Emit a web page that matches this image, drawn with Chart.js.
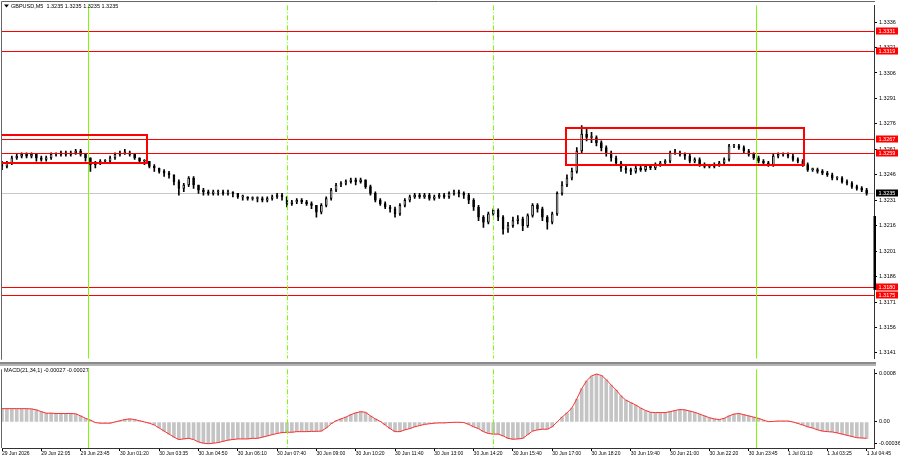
<!DOCTYPE html>
<html lang="en">
<head>
<meta charset="UTF-8">
<title>GBPUSD,M5</title>
<script src="https://cdn.jsdelivr.net/npm/chart.js"></script>
<style>
  body { margin: 0; background: #fff; }
  #wrap { position: relative; width: 900px; height: 460px; }
  canvas { position: absolute; left: 0; }
  #priceChart { top: 0; }
  #macdChart { top: 364px; }
</style>
</head>
<body>
<div id="wrap">
  <canvas id="priceChart" width="900" height="364"></canvas>
  <canvas id="macdChart" width="900" height="96"></canvas>
</div>
<script>
// candles, one per 10 minutes, in pips above 1.3000
const opens = [
  252,251,253,256,257,258,257,258,256,255, 256,258,258,259,258,259,260,258,256,252,
  253,254,254,256,258,259,259,258,256,254, 254,251,250,248,247,246,242,238,240,244,
  240,237,236,235,236,236,235,236,235,233, 233,232,232,232,231,232,233,234,233,229,
  230,231,230,229,228,224,228,232,237,240, 241,242,243,242,243,239,235,231,229,227,
  226,223,228,231,233,234,233,234,232,233, 234,233,235,236,235,234,231,227,221,218,
  223,225,221,214,216,219,220,216,222,228, 226,221,218,223,235,240,244,248,260,270,
  268,268,265,262,259,256,253,250,249,248, 250,249,251,250,252,253,254,259,259,258,
  257,254,255,252,251,251,252,253,255,263, 263,262,260,258,256,254,253,252,257,258,
  258,257,255,254,252,249,249,248,247,246, 244,244,242,241,239,238,237
];
const closes = [
  251,253,256,257,258,257,258,256,255,256, 258,258,259,258,259,260,258,256,252,253,
  254,254,256,258,259,259,258,256,254,254, 251,250,248,247,246,242,238,240,244,240,
  237,236,235,236,236,235,236,235,233,233, 232,232,232,231,232,233,234,233,229,230,
  231,230,229,228,224,228,232,237,240,241, 242,243,242,243,239,235,231,229,227,226,
  223,228,231,233,234,233,234,232,233,234, 233,235,236,235,234,231,227,221,218,223,
  225,221,214,216,219,220,216,222,228,226, 221,218,223,235,240,244,248,260,270,268,
  268,265,262,259,256,253,250,249,248,250, 249,251,250,252,253,254,259,259,258,257,
  254,255,252,251,251,252,253,255,263,263, 262,260,258,256,254,253,252,257,258,258,
  257,255,254,252,249,249,248,247,246,244, 244,242,241,239,238,237,235
];
const highs = [
  254,254,257,258,259,259,259,258,257,257, 259,259,260,260,260,261,261,258,256,254,
  255,255,257,259,260,261,260,258,256,255, 254,252,250,249,248,246,243,241,245,245,
  240,238,237,237,237,237,237,236,235,234, 233,233,233,233,233,234,235,235,233,231,
  232,232,231,230,228,229,233,238,241,242, 243,244,244,244,243,240,236,232,230,228,
  227,229,232,234,235,235,235,235,234,235, 235,236,237,237,236,235,232,228,222,224,
  226,226,222,218,221,222,221,223,229,229, 227,222,224,236,242,246,250,262,275,274,
  271,269,266,263,260,257,254,251,250,251, 251,252,252,253,254,255,260,261,260,259,
  258,256,256,253,252,253,254,256,264,264, 264,263,261,259,257,255,254,258,259,259,
  259,258,256,255,253,250,250,249,248,247, 245,245,243,242,240,239,238
];
const lows = [
  249,250,252,255,256,256,256,254,254,254, 255,257,257,257,257,258,257,254,248,250,
  252,253,253,255,257,258,257,255,253,252, 250,248,247,245,244,240,234,236,239,238,
  235,234,234,234,234,234,234,233,232,231, 231,231,230,230,230,231,232,231,227,228,
  229,229,228,226,221,223,227,231,236,239, 240,241,240,241,238,234,230,228,226,224,
  221,222,227,230,232,232,232,231,231,232, 232,232,234,233,232,229,225,219,215,217,
  222,219,211,212,215,217,213,215,221,224, 219,214,217,222,234,239,243,247,259,266,
  265,263,260,257,254,252,248,247,246,247, 248,248,249,249,251,252,253,258,257,255,
  253,253,251,250,250,250,251,252,254,262, 261,259,257,255,253,252,251,251,256,257,
  256,254,253,251,248,248,247,246,245,243, 243,241,240,238,237,236,234
];

// MACD(21,34,1) per candle, in 0.00001
const macdValues = [
  22,22,22,22,22,22,21.5,20,17,14.5, 14.5,14,14,14,14,13.5,10,6,3,-1,
  -2,-2,-2,0,2,4,5,4,2,0, -2,-5,-10,-15,-20,-25,-29,-28,-27,-29,
  -33,-35,-36,-35,-34,-32,-30,-29,-28,-28, -28,-27,-27,-25,-23,-21,-19,-17.5,-17,-17,
  -16,-16,-16,-15.5,-15.5,-15,-10,-3,2,5, 8,12,15,17,16,10,5,1,-5,-11,
  -16,-16,-13,-11,-8,-6,-4,-3,-2,-1.5, -1.5,-1,-0.5,-0.5,-1,-4,-8,-11,-16,-19,
  -20,-20,-23,-27,-28.5,-28,-27,-21,-15,-13, -12,-12,-8,0,8,15,23,38,55,68,
  76,79,77,70,61,53,43,36,32,28, 23,19,16,15.5,15.5,15.5,17,19,20.5,20,
  18,16,13,10,7,5,4,6,10,13, 14,12,10,8,6,3,0.5,1,1.5,1.5,
  1.5,0,-2.5,-5,-8,-10,-13,-15,-16,-16.5, -18,-20,-22,-24,-26,-26.5,-27
];

const timeTickBars = [0,8,16,24,32,40,48,56,64,72,80,88,96,104,112,120,128,136,144,152,160,168,176];
const timeLabels = [
  '29 Jun 2026','29 Jun 22:05','29 Jun 23:45','30 Jun 01:20','30 Jun 03:35','30 Jun 04:50',
  '30 Jun 06:10','30 Jun 07:40','30 Jun 09:00','30 Jun 10:20','30 Jun 11:40','30 Jun 13:00',
  '30 Jun 14:20','30 Jun 15:40','30 Jun 17:00','30 Jun 18:20','30 Jun 19:40','30 Jun 21:00',
  '30 Jun 22:20','30 Jun 23:45','1 Jul 01:10','1 Jul 03:25','1 Jul 04:45'
];

const priceTicks = [1.3141,1.3156,1.3171,1.3186,1.3201,1.3216,1.3231,1.3246,1.3261,1.3276,1.3291,1.3306,1.3321,1.3336];
const levels = [1.3331, 1.3319, 1.3267, 1.3259, 1.3180, 1.3175];
const lastPrice = 1.3235;
const macdTickValues = [-0.00036, 0, 0.0008];
const macdTickLabels = ['-0.00036', '0.00', '0.0008'];

// midnight (solid) and session (dash-dot) lines, in candle index
const midnightBars = [17.5, 153.5];
const sessionBars = [58, 100];

// range boxes
const boxFrom = [-4, 114.8];
const boxTo = [29.5, 163.2];
const boxHigh = [1.32693, 1.32734];
const boxLow = [1.3253, 1.32519];

const axisMarkFrom = 1.32217, axisMarkTo = 1.31782;

const headerText = 'GBPUSD,M5  1.3235 1.3235 1.3235 1.3235';
const macdText = 'MACD(21,34,1) -0.00027 -0.00027';

const X_MIN = 0, X_MAX = 177.5;
const PRICE_MIN = 1.31376, PRICE_MAX = 1.33459;
const MACD_MIN = -0.00043, MACD_MAX = 0.00087;
const FONT = '"Liberation Sans", Arial, sans-serif';

const toPrice = p => +(1.3 + p * 0.0001).toFixed(5);
const bodies = closes.map((c, i) => ({x: i, y: [toPrice(opens[i]), toPrice(c)]}));
const wicks = highs.map((h, i) => ({x: i, y: [toPrice(lows[i]), toPrice(h)]}));
const bodyColors = closes.map((c, i) => c >= opens[i] ? '#ffffff' : '#000000');
const macdPoints = macdValues.map((v, i) => ({x: i, y: v * 0.00001}));

function vLines(ctx, x, a) {
  ctx.lineWidth = 1;
  ctx.strokeStyle = '#7cfc00';
  midnightBars.forEach(b => {
    const px = Math.round(x.getPixelForValue(b)) + 0.5;
    ctx.setLineDash([]);
    ctx.beginPath(); ctx.moveTo(px, a.top); ctx.lineTo(px, a.bottom); ctx.stroke();
  });
  sessionBars.forEach(b => {
    const px = Math.round(x.getPixelForValue(b)) + 0.5;
    ctx.setLineDash([5, 2, 1, 2]);
    ctx.beginPath(); ctx.moveTo(px, a.top); ctx.lineTo(px, a.bottom); ctx.stroke();
  });
  ctx.setLineDash([]);
}

function axisLabel(ctx, a, yv, txt, bg) {
  const yc = Math.round(yv);
  ctx.fillStyle = bg;
  ctx.fillRect(a.right + 2, yc - 3.5, 22, 7);
  ctx.fillStyle = '#fff';
  ctx.font = '5.5px ' + FONT;
  ctx.textAlign = 'left';
  ctx.textBaseline = 'middle';
  ctx.fillText(txt, a.right + 4.5, yc + 0.3);
}

const pricePlugin = {
  id: 'pricePlugin',
  beforeDatasetsDraw(chart) {
    const {ctx, chartArea: a, scales: {y}} = chart;
    ctx.save();
    const yp = Math.round(y.getPixelForValue(lastPrice)) + 0.5;
    ctx.strokeStyle = '#c8c8c8'; ctx.lineWidth = 1;
    ctx.beginPath(); ctx.moveTo(a.left, yp); ctx.lineTo(a.right, yp); ctx.stroke();
    ctx.restore();
  },
  afterDatasetsDraw(chart) {
    const {ctx, chartArea: a, scales: {x, y}} = chart;
    ctx.save();
    ctx.beginPath(); ctx.rect(a.left, a.top, a.right - a.left, a.bottom - a.top); ctx.clip();
    ctx.strokeStyle = '#ff0000'; ctx.lineWidth = 1;
    levels.forEach(l => {
      const yp = Math.round(y.getPixelForValue(l)) + 0.5;
      ctx.beginPath(); ctx.moveTo(a.left, yp); ctx.lineTo(a.right, yp); ctx.stroke();
    });
    vLines(ctx, x, a);
    ctx.strokeStyle = '#ff0000'; ctx.lineWidth = 2;
    boxFrom.forEach((f, i) => {
      const x1 = Math.round(x.getPixelForValue(f)), x2 = Math.round(x.getPixelForValue(boxTo[i]));
      const y1 = Math.round(y.getPixelForValue(boxHigh[i])), y2 = Math.round(y.getPixelForValue(boxLow[i]));
      ctx.strokeRect(x1, y1, x2 - x1, y2 - y1);
    });
    ctx.restore();
  },
  afterDraw(chart) {
    const {ctx, chartArea: a, scales: {y}} = chart;
    ctx.save();
    // frame
    ctx.strokeStyle = '#666'; ctx.lineWidth = 1;
    ctx.beginPath();
    ctx.moveTo(1.5, a.bottom + 1); ctx.lineTo(1.5, 1.5); ctx.lineTo(a.right + 1, 1.5);
    ctx.stroke();
    ctx.fillStyle = '#8a8a8a';
    ctx.fillRect(0, 362, a.right + 2, 2);
    // mark on the price axis
    ctx.fillStyle = '#000';
    const m1 = y.getPixelForValue(axisMarkFrom), m2 = y.getPixelForValue(axisMarkTo);
    ctx.fillRect(a.right - 0.5, m1, 2.5, m2 - m1);
    // header
    ctx.beginPath(); ctx.moveTo(4, 4.5); ctx.lineTo(9, 4.5); ctx.lineTo(6.5, 7.5); ctx.closePath(); ctx.fill();
    ctx.font = '5.5px ' + FONT;
    ctx.textAlign = 'left'; ctx.textBaseline = 'middle';
    ctx.fillText(headerText, 11, 6.5);
    // price labels
    levels.forEach(l => axisLabel(ctx, a, y.getPixelForValue(l), l.toFixed(4), '#ff0000'));
    axisLabel(ctx, a, y.getPixelForValue(lastPrice), lastPrice.toFixed(4), '#000000');
    ctx.restore();
  }
};

const macdPlugin = {
  id: 'macdPlugin',
  afterDatasetsDraw(chart) {
    const {ctx, chartArea: a, scales: {x}} = chart;
    ctx.save();
    ctx.beginPath(); ctx.rect(a.left, a.top, a.right - a.left, a.bottom - a.top); ctx.clip();
    vLines(ctx, x, a);
    ctx.restore();
  },
  afterDraw(chart) {
    const {ctx, chartArea: a} = chart;
    ctx.save();
    ctx.fillStyle = '#b4b4b4';
    ctx.fillRect(0, 0, a.right + 2, 2);
    ctx.strokeStyle = '#666'; ctx.lineWidth = 1;
    ctx.beginPath(); ctx.moveTo(1.5, a.top); ctx.lineTo(1.5, a.bottom); ctx.stroke();
    ctx.fillStyle = '#000';
    ctx.font = '5.5px ' + FONT;
    ctx.textAlign = 'left'; ctx.textBaseline = 'middle';
    ctx.fillText(macdText, 4, 6.5);
    ctx.restore();
  }
};

const rightAxis = (min, max, values, label) => ({
  position: 'right',
  min: min, max: max,
  afterBuildTicks: s => { s.ticks = values.map(v => ({value: v})); },
  afterFit: s => { s.width = 26; },
  grid: { drawOnChartArea: false, drawTicks: true, tickLength: 3, color: '#000' },
  border: { display: true, color: '#333' },
  ticks: { autoSkip: false, padding: 2, color: '#000', font: { family: FONT, size: 5.5 }, callback: label }
});

new Chart(document.getElementById('priceChart'), {
  type: 'bar',
  data: {
    datasets: [
      { data: bodies, backgroundColor: bodyColors, borderColor: '#000', borderWidth: 1,
        borderSkipped: false, barThickness: 2, minBarLength: 1, grouped: false, order: 1 },
      { data: wicks, backgroundColor: '#000', borderWidth: 0, barThickness: 1, grouped: false, order: 2 }
    ]
  },
  options: {
    responsive: false, animation: false, events: [],
    layout: { padding: { left: 2, top: 3, right: 0, bottom: 2 } },
    plugins: { legend: { display: false }, tooltip: { enabled: false } },
    scales: {
      x: { type: 'linear', min: X_MIN, max: X_MAX, offset: false, display: false, grid: { offset: false } },
      y: rightAxis(PRICE_MIN, PRICE_MAX, priceTicks, v => v.toFixed(4))
    }
  },
  plugins: [pricePlugin]
});

new Chart(document.getElementById('macdChart'), {
  type: 'bar',
  data: {
    datasets: [
      { type: 'line', data: macdPoints, borderColor: '#ff3030', borderWidth: 1, pointRadius: 0, order: 1 },
      { data: macdPoints, backgroundColor: '#c4c4c4', barThickness: 3, grouped: false, order: 2 }
    ]
  },
  options: {
    responsive: false, animation: false, events: [],
    layout: { padding: { left: 2, top: 2, right: 0, bottom: 0 } },
    plugins: { legend: { display: false }, tooltip: { enabled: false } },
    scales: {
      x: {
        type: 'linear', min: X_MIN, max: X_MAX, offset: false,
        afterBuildTicks: s => { s.ticks = timeTickBars.map(v => ({value: v})); },
        afterFit: s => { s.height = 12; },
        grid: { drawOnChartArea: false, drawTicks: true, tickLength: 3, color: '#000', offset: false },
        border: { display: true, color: '#333' },
        ticks: { autoSkip: false, maxRotation: 0, align: 'start', padding: 0, color: '#000',
                 font: { family: FONT, size: 5 }, callback: (v, i) => timeLabels[i] }
      },
      y: rightAxis(MACD_MIN, MACD_MAX, macdTickValues, (v, i) => macdTickLabels[i])
    }
  },
  plugins: [macdPlugin]
});
</script>
</body>
</html>
